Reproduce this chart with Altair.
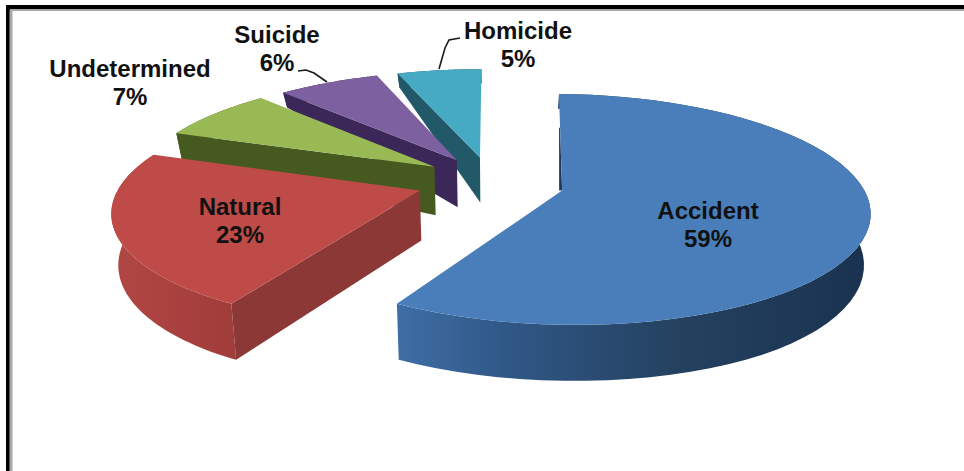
import math
import numpy as np
import pandas as pd
import altair as alt

# Shares of manner of death, in percent, clockwise from twelve o'clock
categories = ["Accident", "Natural", "Undetermined", "Suicide", "Homicide"]
shares = [59, 23, 7, 6, 5]
top_colors = ["#4a7ebb", "#be4b48", "#98b954", "#7d60a0", "#46aac5"]
edge_colors = ["#1f3a5c", "#8c3836", "#46591f", "#3b2858", "#215968"]

W, H = 964, 471
# Tilted-disc view of the pie
CX, CY, RX, RY, TILT, PULL = 491, 183, 299, 110, 0.161, 0.245
DEPTH_V = [-1.3, -0.9, 0.2, 0.57, 0.98, 1.3]
DEPTH_PX = [56, 56, 48, 22, 14, 14]
VANISH_X, CONVERGE = 500, 0.018
# Lens skew of the camera: how far the rim appears to swing, in degrees
SKEW_AT = [0, 60, 212, 295, 320, 342, 360]
SKEW_BY = [-1.5, 0, 2.2, 5.5, 3.5, 1.5, 0]


def project(theta, radius, mid):
    deg = math.degrees(theta)
    seen = math.radians(deg - float(np.interp(deg, SKEW_AT, SKEW_BY)))
    u = radius * math.sin(seen) + PULL * math.sin(mid)
    v = radius * math.cos(seen) + PULL * math.cos(mid)
    s = 1 / (1 + TILT * v)
    x, y = CX + RX * u * s, CY - RY * v * s
    d = float(np.interp(v, DEPTH_V, DEPTH_PX))
    return (x, y), (x + (VANISH_X - x) * CONVERGE, y + d)


x_scale = alt.Scale(domain=[0, W], range=[0, W])
y_scale = alt.Scale(domain=[0, H], range=[0, H])


def polygon(points, fill):
    frame = pd.DataFrame(points, columns=["px", "py"])
    frame["seq"] = range(len(frame))
    return alt.Chart(frame).mark_line(fill=fill, stroke=None, strokeWidth=0).encode(
        x=alt.X("px:Q", scale=x_scale, axis=None),
        y=alt.Y("py:Q", scale=y_scale, axis=None),
        order="seq:Q",
    )


def sideways(stops):
    return alt.Gradient(
        gradient="linear", x1=0, x2=1, y1=0, y2=0,
        stops=[alt.GradientStop(offset=o, color=c) for o, c in stops],
    )


arc_fills = [
    sideways([(0, "#3f6ea6"), (0.25, "#2f5684"), (0.6, "#24415f"), (1, "#1a3250")]),
    sideways([(0, "#b24744"), (1, "#a03c3a")]),
    "#46591f", "#3b2858", "#215968",
]

# Walk the pie once to get each slice's angular span
spans, start = [], 0.0
for share in shares:
    spans.append((start, start + share / 100 * 2 * math.pi))
    start = spans[-1][1]

slice_layers = {}
for i, (a0, a1) in enumerate(spans):
    mid = (a0 + a1) / 2
    thetas = np.linspace(a0, a1, 60)
    rim = [project(t, 1, mid) for t in thetas]
    top_rim = [p[0] for p in rim]
    low_rim = [p[1] for p in rim]
    apex_top, apex_low = project(0, 0, mid)
    layers = []
    # Wall along the outer curve
    layers.append(polygon(top_rim + low_rim[::-1], arc_fills[i]))
    if i == 0:
        # Sliver of the straight wall seen beside the opening edge
        a = top_rim[0]
        m = (a[0] + (apex_top[0] - a[0]) * 0.35, a[1] + (apex_top[1] - a[1]) * 0.35)
        layers.append(polygon([m, apex_top, (apex_top[0] - 3, apex_top[1]), (m[0] - 1, m[1])], edge_colors[0]))
    else:
        # Wall along the slice's leading cut face
        layers.append(polygon([top_rim[0], apex_top, apex_low, low_rim[0]], edge_colors[i]))
    # Upper face
    layers.append(polygon([apex_top] + top_rim, top_colors[i]))
    slice_layers[i] = layers

# Rear slices first so nearer ones overlap them
drawn = []
for i in [4, 3, 2, 1, 0]:
    drawn.extend(slice_layers[i])

frame_parts = [
    (6, W, 7, 7, "#000000", 4), (6, W, 10, 10, "#a8a8a8", 2),
    (8, 8, 5, H, "#000000", 4), (11, 11, 10, H, "#a8a8a8", 3),
]
frame_marks = [
    alt.Chart(pd.DataFrame({"k": [0]})).mark_rule(color=c, strokeWidth=sw).encode(
        x=alt.value(x0), x2=alt.value(x1), y=alt.value(y0), y2=alt.value(y1)
    )
    for x0, x1, y0, y1, c, sw in frame_parts
]

# Leader lines for the two outer labels
leaders = [
    [(298, 71), (306, 70), (314, 73), (327, 82)],
    [(460, 38), (449, 40), (445, 48), (439, 69)],
]
leader_marks = [
    alt.Chart(pd.DataFrame(
        [{"px": p[0], "py": p[1], "seq": n} for n, p in enumerate(path)]
    )).mark_line(color="#1a1a1a", strokeWidth=1.6).encode(
        x=alt.X("px:Q", scale=x_scale, axis=None),
        y=alt.Y("py:Q", scale=y_scale, axis=None),
        order="seq:Q",
    )
    for path in leaders
]

label_spots = [(708, 212), (240, 208), (130, 70), (277, 36), (518, 32)]
label_rows = []
for name, share, (lx, ly) in zip(categories, shares, label_spots):
    label_rows.append({"t": name, "lx": lx, "ly": ly})
    label_rows.append({"t": f"{share}%", "lx": lx, "ly": ly + 28})
labels = alt.Chart(pd.DataFrame(label_rows)).mark_text(
    font="Liberation Sans", fontWeight="bold", fontSize=24, color="#111111",
    align="center", baseline="middle",
).encode(
    x=alt.X("lx:Q", scale=x_scale, axis=None),
    y=alt.Y("ly:Q", scale=y_scale, axis=None),
    text="t:N",
)

chart = alt.layer(*drawn, *frame_marks, *leader_marks, labels).properties(
    width=W, height=H, padding=0, autosize=alt.AutoSizeParams(type="none"), background="#ffffff"
).configure_view(stroke=None)

chart.save("out.html", embed_options={"renderer": "svg", "actions": False})
